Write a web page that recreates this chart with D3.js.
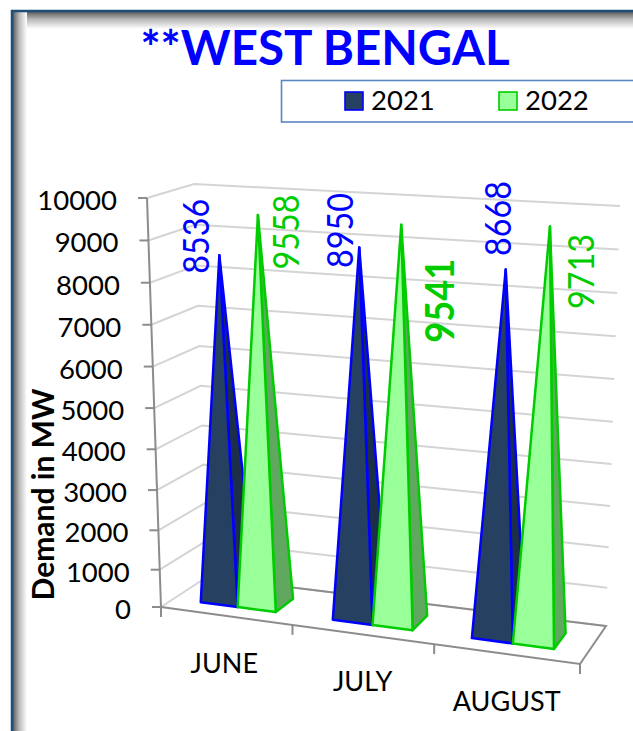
<!DOCTYPE html>
<html>
<head>
<meta charset="utf-8">
<script src="https://cdn.jsdelivr.net/npm/d3@7/dist/d3.min.js"></script>
<style>
  html, body { margin: 0; padding: 0; background: #fff; }
  svg { display: block; }
  text { font-family: Lato, "Noto Sans", sans-serif; }
</style>
</head>
<body>
<svg id="chart" width="633" height="731"></svg>
<script>
// Chart data
const titleText = "**WEST BENGAL";
const yAxisTitle = "Demand in MW";
const months = ["JUNE", "JULY", "AUGUST"];
const years = ["2021", "2022"];
const demand2021 = [8536, 8950, 8668];
const demand2022 = [9558, 9541, 9713];
const yTicks = [0, 1000, 2000, 3000, 4000, 5000, 6000, 7000, 8000, 9000, 10000];

// Label placement relative to each pyramid's tip, one [dx, dy] per month
const labelShift2021 = [[-24, -19], [-20, -17], [-9, -51]];
const labelShift2022 = [[27, 17], [38, 76], [30, 45]];

const svg = d3.select("#chart");

// The 3-D plot box: the eight screen corners of the chart cube
const floorFront = [d3.scaleLinear().range([161, 580]), d3.scaleLinear().range([607, 664])];
const floorBack  = [d3.scaleLinear().range([207, 606]), d3.scaleLinear().range([577, 626])];
const roofFront  = [d3.scaleLinear().range([147, 595]), d3.scaleLinear().range([198, 228])];
const roofBack   = [d3.scaleLinear().range([194, 620]), d3.scaleLinear().range([184, 206])];

// Foreshortening along the value axis and the category axis
const heightScale = d3.scalePow().exponent(1.04).domain([0, 10000]).range([0, 1]);
const widthScale = d3.scalePow().exponent(1.055).domain([0, 1]).range([0, 1]);

// Category bands measured in unit-cube width
const tickBand = d3.scaleBand().domain(months).range([0, 1]);
const monthBand = d3.scaleBand().domain(months).range([0.0055, 0.993]);
const yearBand = d3.scaleBand().domain(years).range([0, monthBand.bandwidth()]).paddingOuter(0.73).paddingInner(0);

const DEPTH_FRONT = 0.28, DEPTH_BACK = 0.70, DEPTH_TIP = 0.49;

// Maps (width u, depth d, value v) in the cube to a screen point
function project(u, d, v) {
  const t = widthScale(u), h = heightScale(v);
  return [0, 1].map(k => {
    const bottom = d3.interpolateNumber(floorFront[k](t), floorBack[k](t))(d);
    const top = d3.interpolateNumber(roofFront[k](t), roofBack[k](t))(d);
    return d3.interpolateNumber(bottom, top)(h);
  });
}

const polyline = d3.line();
const polygon = pts => polyline(pts) + "Z";

// Frame: dark edge with a soft inner shadow along the top and left
const defs = svg.append("defs");
function shade(id, x2, y2) {
  const g = defs.append("linearGradient").attr("id", id)
    .attr("x1", 0).attr("y1", 0).attr("x2", x2).attr("y2", y2);
  g.append("stop").attr("offset", 0).attr("stop-color", "#5f5f5f");
  g.append("stop").attr("offset", 0.45).attr("stop-color", "#bbbbbb");
  g.append("stop").attr("offset", 1).attr("stop-color", "#ffffff");
}
shade("shadeTop", 0, 1);
shade("shadeLeft", 1, 0);
svg.append("rect").attr("x", 13).attr("y", 12).attr("width", 620).attr("height", 17).attr("fill", "url(#shadeTop)");
svg.append("rect").attr("x", 13).attr("y", 12).attr("width", 14).attr("height", 719).attr("fill", "url(#shadeLeft)");
svg.append("path").attr("d", polyline([[12, 731], [12, 11], [633, 11]]))
  .attr("fill", "none").attr("stroke", "#1f4e79").attr("stroke-width", 2.5);

// Title
svg.append("text").attr("x", 325).attr("y", 65).attr("text-anchor", "middle")
  .attr("font-size", 47.5).attr("font-weight", 700).attr("fill", "#0000ff").text(titleText);

// Legend
svg.append("rect").attr("x", 281.5).attr("y", 80.5).attr("width", 360).attr("height", 41.5)
  .attr("fill", "#fff").attr("stroke", "#5b87c0").attr("stroke-width", 1.6);
const legendStyles = [
  { x: 345, fill: "#254061", stroke: "#0000ff" },
  { x: 499, fill: "#99ff99", stroke: "#00cc00" }
];
years.forEach((year, i) => {
  const s = legendStyles[i];
  svg.append("rect").attr("x", s.x).attr("y", 92).attr("width", 18).attr("height", 18)
    .attr("fill", s.fill).attr("stroke", s.stroke).attr("stroke-width", 1.6);
  svg.append("text").attr("x", s.x + 26).attr("y", 110)
    .attr("font-size", 27.5).attr("fill", "#000").text(year);
});

// Gridlines along the side wall and back wall
const gridG = svg.append("g").attr("fill", "none").attr("stroke", "#d4d4d4").attr("stroke-width", 2);
yTicks.forEach(v => {
  gridG.append("path").attr("d", polyline([project(0, 0, v), project(0, 1, v), project(1, 1, v)]));
});

// Floor outline and axes
const axisG = svg.append("g").attr("fill", "none").attr("stroke", "#8c8c8c").attr("stroke-width", 2);
axisG.append("path").attr("d", polyline([project(0, 0, 0), project(1, 0, 0), project(1, 1, 0), project(0, 1, 0)]));
axisG.append("path").attr("d", polyline([project(0, 0, 10000), project(0, 0, 0)]));
yTicks.forEach(v => {
  const p = project(0, 0, v);
  axisG.append("path").attr("d", polyline([[p[0] - 9, p[1]], p]));
  svg.append("text").attr("x", p[0] - 30).attr("y", p[1] + 12)
    .attr("text-anchor", "end").attr("font-size", 27.5).attr("fill", "#000").text(v);
});
[0, ...months.map(m => tickBand(m) + tickBand.bandwidth())].forEach(u => {
  const p = project(u, 0, 0);
  axisG.append("path").attr("d", polyline([p, [p[0], p[1] + 10]]));
});

// Y axis title
svg.append("text").attr("transform", "translate(54,494.5) rotate(-90)")
  .attr("text-anchor", "middle").attr("font-size", 30).attr("font-weight", 700)
  .attr("fill", "#000").text(yAxisTitle);

// Month labels under the front edge
months.forEach(m => {
  const p = project(tickBand(m) + tickBand.bandwidth() / 2, 0, 0);
  svg.append("text").attr("x", p[0]).attr("y", p[1] + 57).attr("text-anchor", "middle")
    .attr("font-size", 27).attr("fill", "#000").text(m);
});

// Pyramids: side face first, front face on top
const seriesStyles = [
  { values: demand2021, shifts: labelShift2021, front: "#254061", side: "#1b2f49", line: "#0000ff" },
  { values: demand2022, shifts: labelShift2022, front: "#99ff99", side: "#60a860", line: "#00cc00" }
];
months.forEach((m, mi) => {
  years.forEach((year, yi) => {
    const s = seriesStyles[yi];
    const v = s.values[mi];
    const u0 = monthBand(m) + yearBand(year);
    const u1 = u0 + yearBand.bandwidth();
    const tip = project((u0 + u1) / 2, DEPTH_TIP, v);
    const fl = project(u0, DEPTH_FRONT, 0);
    const fr = project(u1, DEPTH_FRONT, 0);
    const br = project(u1, DEPTH_BACK, 0);
    const g = svg.append("g").attr("stroke", s.line).attr("stroke-width", 2.5).attr("stroke-linejoin", "round");
    g.append("path").attr("d", polygon([tip, fr, br])).attr("fill", s.side);
    g.append("path").attr("d", polygon([tip, fl, fr])).attr("fill", s.front);
  });
});

// Value labels, rotated alongside each pyramid
months.forEach((m, mi) => {
  years.forEach((year, yi) => {
    const s = seriesStyles[yi];
    const v = s.values[mi];
    const u = monthBand(m) + yearBand(year) + yearBand.bandwidth() / 2;
    const tip = project(u, DEPTH_TIP, v);
    const [dx, dy] = s.shifts[mi];
    const emphasised = v === 9541;
    svg.append("text")
      .attr("transform", `translate(${tip[0] + dx},${tip[1] + dy}) rotate(-90)`)
      .attr("text-anchor", "middle").attr("dominant-baseline", "central")
      .attr("textLength", emphasised ? 84 : 75).attr("lengthAdjust", "spacingAndGlyphs")
      .attr("font-size", emphasised ? 40 : 36).attr("font-weight", emphasised ? 700 : 400)
      .attr("fill", s.line).text(v);
  });
});
</script>
</body>
</html>
